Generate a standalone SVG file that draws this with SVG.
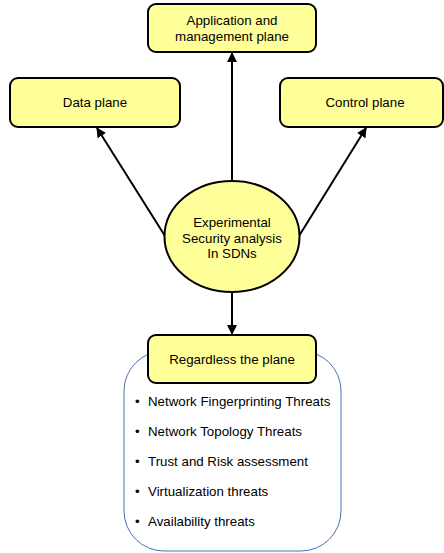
<svg xmlns="http://www.w3.org/2000/svg" width="444" height="553" viewBox="0 0 444 553">
<defs>
<style>
.box{fill:#ffff99;stroke:#000;stroke-width:2}
.t{font-family:"Liberation Sans",Arial,sans-serif;font-size:13.3px;fill:#000;text-anchor:middle}
.l{font-family:"Liberation Sans",Arial,sans-serif;font-size:13.3px;fill:#000}
.c{stroke:#000;stroke-width:2;fill:none;marker-end:url(#ah)}
</style>
<marker id="ah" viewBox="0 0 10 10" refX="9" refY="5" markerWidth="5" markerHeight="5" orient="auto" markerUnits="strokeWidth">
<path d="M0,0 L10,5 L0,10 z" fill="#000"/>
</marker>
</defs>
<rect width="444" height="553" fill="#fff"/>
<g id="container">
<rect x="124" y="351" width="217" height="200" rx="40" ry="40" fill="#fff" stroke="#4a72b0" stroke-width="1"/>
</g>
<g id="connectors">
<line class="c" x1="232" y1="181" x2="232" y2="53"/>
<line class="c" x1="165" y1="236" x2="97" y2="128"/>
<line class="c" x1="299" y1="236" x2="366" y2="128"/>
<line class="c" x1="232" y1="292" x2="232" y2="334"/>
</g>
<g id="app">
<rect class="box" x="148" y="4" width="168" height="48" rx="8"/>
<text class="t" x="232" y="25">Application and</text>
<text class="t" x="232" y="41">management plane</text>
</g>
<g id="data">
<rect class="box" x="10" y="78" width="170" height="49" rx="8"/>
<text class="t" x="95" y="107">Data plane</text>
</g>
<g id="control">
<rect class="box" x="280" y="78" width="163" height="49" rx="8"/>
<text class="t" x="365" y="107">Control plane</text>
</g>
<g id="center">
<ellipse cx="232" cy="236.5" rx="67.5" ry="55.5" fill="#ffff99" stroke="#000" stroke-width="2"/>
<text class="t" x="232" y="227">Experimental</text>
<text class="t" x="232" y="243">Security analysis</text>
<text class="t" x="232" y="258">In SDNs</text>
</g>
<g id="regardless">
<rect class="box" x="148" y="335" width="168" height="48" rx="8"/>
<text class="t" x="232" y="364">Regardless the plane</text>
</g>
<g id="list">
<text class="l" x="135" y="406">•</text><text class="l" x="148" y="406">Network Fingerprinting Threats</text>
<text class="l" x="135" y="436">•</text><text class="l" x="148" y="436">Network Topology Threats</text>
<text class="l" x="135" y="466">•</text><text class="l" x="148" y="466">Trust and Risk assessment</text>
<text class="l" x="135" y="496">•</text><text class="l" x="148" y="496">Virtualization threats</text>
<text class="l" x="135" y="526">•</text><text class="l" x="148" y="526">Availability threats</text>
</g>
</svg>
